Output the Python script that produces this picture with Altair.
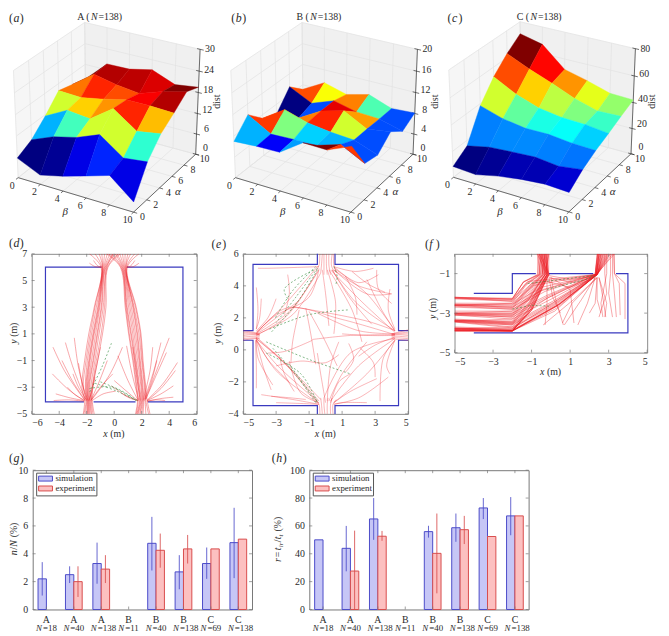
import numpy as np
import pandas as pd
import altair as alt

SERIF = "Liberation Serif"
TXT = "#2a2a2a"

# ---------- surfaces: dist by alpha row (0,2,..,10) and beta column (0,2,..,10)
DIST_A = [[5.7,2.7,4.3,6.3,8.4,2.9],
          [7.8,10.5,12.1,14.7,10.0,10.8],
          [11.6,15.0,14.3,18.9,14.3,15.4],
          [16.0,15.7,16.9,18.4,18.4,18.1],
          [14.9,19.5,18.1,17.3,19.5,21.1],
          [13.7,19.7,19.8,21.2,18.6,19.5]]
LEVEL_A = [[0,.02,.1,.16,.1],
           [.3,.44,.58,.58,.42],
           [.58,.67,.73,.84,.69],
           [.76,.84,.8,.88,.95],
           [1,.95,.94,.91,1]]
DIST_B = [[7.0,7.3,7.4,10.4,10.3,12.2],
          [10.0,7.5,7.7,7.8,9.2,6.9],
          [7.3,10.1,8.8,8.2,7.9,6.3],
          [6.1,6.5,9.0,10.2,7.9,8.6],
          [9.5,7.4,9.0,8.0,7.8,6.6],
          [7.1,9.5,8.3,9.4,7.8,8.1]]
LEVEL_B = [[.3,.12,.28,1,.82],
           [.82,.5,.33,.3,.2],
           [.8,.75,.84,.58,.2],
           [0,.2,.9,.72,.2],
           [.8,.62,.75,.45,.2]]
DIST_C = [[8.5,7.3,11.3,14.0,15.6,14.7],
          [15.8,19.7,21.0,22.1,20.2,22.7],
          [38.5,33.2,30.6,30.8,28.9,28.3],
          [52.8,43.9,38.0,35.4,34.8,32.7],
          [63.0,55.5,49.1,41.9,36.9,37.5],
          [71.0,67.0,52.1,47.8,42.6,42.0]]
LEVEL_C = [[0,.02,.05,.05,.08],
           [.25,.26,.26,.25,.24],
           [.58,.47,.4,.38,.33],
           [.8,.67,.56,.5,.43],
           [1,.87,.73,.6,.52]]
Z_TICKS_A = [0,6,12,18,24,30]
Z_TICKS_B = [0,4,8,12,16,20]
Z_TICKS_C = [0,20,40,60,80]
GRID_TICKS = [0,2,4,6,8,10]

# ---------- bars
CATS = ["A|18","A|40","A|138","B|11","B|40","B|138","C|69","C|138"]
SERIES = ["simulation","experiment"]
G_SIM = [2.2,2.5,3.3,None,4.75,2.7,3.3,4.8]
G_SIM_LO = [1.0,1.9,1.85,None,2.8,1.45,2.2,2.25]
G_SIM_HI = [3.4,3.1,4.8,None,6.65,3.9,4.45,7.3]
G_EXP = [None,2.0,2.9,None,4.25,4.35,4.35,5.05]
G_EXP_LO = [None,0.9,1.9,None,3.0,3.3,None,None]
G_EXP_HI = [None,3.1,3.9,None,5.45,5.35,None,None]
H_SIM = [50,43.9,65,None,55.9,58.7,72.9,67.2]
H_SIM_LO = [None,27.4,50,None,51.6,48.6,64.9,53.3]
H_SIM_HI = [None,60,80,None,60.1,68.9,80,80.7]
H_EXP = [None,27.6,52.6,None,40.3,57.3,52.4,67.2]
H_EXP_LO = [None,0,49.3,None,11.6,47,None,None]
H_EXP_HI = [None,56.6,56.4,None,68.9,67.2,None,None]

# ---------- trajectories, panel d: x read at each of these y levels
D_LEVELS = [7,6,3,1,-1,-3,-4,-5]
D_LEFT = [[-1.8,-.95,-1.45,-1.85,-2.15,-2.35,-2.15,-2.25],[-1.4,-.9,-1.4,-1.75,-2.05,-2.25,-2.05,-2.2],
          [-1.1,-.85,-1.3,-1.65,-1.95,-2.1,-2.0,-2.1],[-.9,-.85,-1.2,-1.55,-1.85,-2.05,-1.95,-2.0],
          [-.7,-.8,-1.15,-1.5,-1.8,-2.0,-1.9,-1.95],[-.5,-.75,-1.1,-1.45,-1.75,-1.95,-1.9,-1.9],
          [-.3,-.7,-1.05,-1.35,-1.65,-1.9,-1.85,-1.85],[-.1,-.65,-.95,-1.25,-1.55,-1.85,-1.8,-1.8],
          [.1,-.6,-.9,-1.2,-1.5,-1.8,-1.75,-1.7],[-.05,-.55,-.8,-1.1,-1.4,-1.7,-1.7,-1.65],
          [.3,-.5,-.7,-.95,-1.3,-1.6,-1.65,-1.55],[.45,-.45,-.6,-.85,-1.2,-1.55,-1.6,-1.45]]
D_RIGHT = [[1.8,.95,1.6,1.95,2.1,2.3,2.4,2.6],[1.5,.9,1.55,1.9,2.05,2.25,2.3,2.5],
           [1.2,.85,1.45,1.8,2.0,2.2,2.25,2.3],[1.0,.85,1.4,1.7,1.9,2.1,2.15,2.1],
           [.8,.8,1.35,1.65,1.85,2.05,2.1,2.0],[.6,.75,1.25,1.55,1.8,2.0,2.05,1.9],
           [.4,.7,1.15,1.45,1.7,1.95,2.0,1.85],[.2,.65,1.05,1.35,1.6,1.85,1.95,1.75],
           [.05,.6,.95,1.25,1.55,1.8,1.9,1.7],[-.2,.55,.9,1.2,1.5,1.75,1.85,1.65],
           [-.4,.5,.85,1.1,1.4,1.65,1.75,1.6],[-.55,.45,.8,1.05,1.35,1.6,1.7,1.55]]
D_FANS = [[-4.45,0,-3.6,-1.8,-2.2,-3.9],[-3.55,.35,-3.0,-1.5,-2.1,-3.9],[-2.9,.7,-2.6,-1.5,-2.0,-4],
          [-4.5,-2,-3.3,-3.2,-2.2,-4],[-4.25,-3.5,-3.2,-3.8,-2.2,-4],[-3.4,-3,-2.8,-3.6,-2.1,-4],
          [-4.4,-4,-3.3,-3.95,-2.2,-4.05],[-3.0,-2.0,-2.6,-3,-2,-4],[-2.6,-1.2,-2.3,-2.8,-1.9,-4],
          [-1,0,-1.4,-2,-1.8,-4],[-1.4,-2.25,-1.6,-3.2,-1.85,-4],[-.1,-2,-1,-3,-1.7,-4],
          [.6,0,-.3,-2,-1.6,-3.9],[.1,-3.3,-.8,-3.5,-1.6,-4],[-.5,-1,-1.1,-2.6,-1.7,-4],
          [-3.8,-1,-3,-2.6,-2.1,-4],[4,.7,3.1,-1.7,2.3,-3.9],[3.4,.35,2.9,-1.7,2.2,-3.9],
          [2.8,0,2.6,-1.8,2.1,-4],[4.6,-1.15,3.5,-2.8,2.4,-3.95],[4.45,-1.75,3.4,-3.1,2.4,-4],
          [4.3,-2.9,3.4,-3.5,2.4,-4],[4.3,-3.75,3.4,-3.85,2.4,-4.05],[3.7,-4,3,-3.95,2.4,-4.05],
          [3.1,-1,2.7,-2.6,2.2,-4],[3.8,-.4,3.1,-2,2.3,-3.9],[.27,-.65,1,-2.5,1.75,-4],
          [.9,.1,1.3,-2,1.8,-4],[1.35,0,1.6,-2,1.9,-4],[0,-2.5,.9,-3.3,1.7,-4],
          [-.2,-2.9,.8,-3.6,1.7,-4],[.6,-3.5,1.1,-3.8,1.7,-4],
          [-1.8,6.3,-1.4,6.05,-.95,6],[-1.5,6.5,-1.2,6.1,-.9,6],[1.8,6.3,1.4,6.05,.95,6],[1.5,6.5,1.2,6.1,.9,6]]
D_GREEN = [[-.2,.3,-.9,-1.5,-1.8,-3.4],[-1.8,-3.1,-.2,-3,1.6,-4],[-1,-2.6,.4,-3.2,1.7,-4],[-1.4,-2.7,.2,-3.3,1.6,-4]]
D_WALLS = [[-.92,6,-5,6,-5,-4.1,-2.2,-4.1],[.92,6,5,6,5,-4.1,2.45,-4.1],[-1.5,-4.1,1.55,-4.1]]

# ---------- trajectories, panel e
E_LINES = [[-5,1.2,-4.4,1.1,-4,1.0],[-5,1.1,-4.4,1.05,-4,.95],[-5,1.0,-4.4,1.0,-4,.95],[-5,.9,-4.4,.95,-4,.9],
           [-5,.8,-4.4,.85,-4,.85],[-5,.7,-4.4,.75,-4,.75],[-5,.6,-4.4,.7,-4,.7],
           [5,1.25,4.4,1.1,4,1.0],[5,1.1,4.4,1.05,4,1.0],[5,1.0,4.4,1.0,4,.95],[5,.9,4.4,.95,4,.9],
           [5,.8,4.4,.85,4,.85],[5,.7,4.4,.75,4,.75],[5,.6,4.4,.65,4,.7],
           [-.35,6,-.4,5.3,-.6,4.9],[-.2,6,-.25,5.3,-.3,4.8],[-.1,6,-.1,5.3,-.1,4.7],[.05,6,.05,5.3,.1,4.7],
           [.2,6,.2,5.3,.3,4.7],[.4,6,.35,5.3,.5,4.9],[.5,6,.5,5.3,.7,4.8],
           [-.35,-4,-.4,-3.4,-.6,-3.1],[-.2,-4,-.25,-3.4,-.3,-3],[-.05,-4,-.1,-3.4,-.1,-3],[.1,-4,.1,-3.4,.15,-3],
           [.3,-4,.3,-3.4,.4,-3],[.45,-4,.45,-3.4,.65,-3.1],
           [-4.2,1.1,-2.6,2.7,-.5,5.2],[-4.2,1.0,-2.2,2.4,-.4,5],[-4.2,.95,-2,2.2,-.3,4.8],[-4.2,1.05,-3,2.0,-1.7,3.0],
           [-4.2,1,-2.4,2.6,1,1.9,4.2,.95],[-4.2,.9,-2.6,1.9,-1.8,2.8,-.5,4.9],[-4.2,1.1,-3.1,2.1,-1,3.3,-.4,5.1],
           [-4.2,.7,-2.5,-.8,-.5,-3.3],[-4.2,.8,-2.8,-.5,-.4,-3.2],[-4.2,.6,-2.9,-1,-.5,-3.2],[-4.2,.7,-2.3,-1,-.3,-3.1],
           [-4.2,.6,-3,-1.3,-.5,-3.3],[-4.2,.8,-4.1,-.5,-3.2,-2.2],[-4.2,.6,-3.8,-1,-3.3,-2.5],[-4.2,.7,-3.5,-.6,-2.2,-2],
           [-4.2,1.3,-4.1,2.5,-4.2,3.9],[-4.2,1.3,-4,2,-3.9,3.2],[-4.2,1.2,-3.5,2,-3,3.2],[-4.25,.6,-4.2,-1,-4.2,-2.4],
           [-.4,-3.4,-2,-3.1,-3.9,-2.8],[-.4,-3.3,-1.5,-2.7,-2.2,-.7],[0,-3.3,-.3,-1.5,-.5,-.2],[.1,-3.2,.3,-1,.8,.5],
           [.3,-3.3,.8,-2,1.5,-1.5],[.5,-3.3,1.5,-2.6,3.1,-1.8],[.5,-3.4,2,-3,3.8,-1.7],[.5,-3.4,1,-3.3,2.5,-3.3],
           [-.4,-3.4,-1.5,-3.35,-3,-3.3],[.2,-3.2,1,-1.5,2.5,.5],
           [-.8,.65,1.5,.9,4.2,.95],[.4,5,1.8,3,4.2,1.2],[.3,5,2.2,3,4.2,1.1],[.5,5.1,2.5,3.5,4.2,1.2],
           [.5,5.2,2,4.2,3.2,4.7],[.5,5.2,1.8,4.9,2.9,5.1],[.5,5,2,4,4,3.5],[.5,5,2.5,3.5,4.0,3.5],[.4,5,1.5,3.2,2.8,1.6],
           [4.2,.7,2,-1,.3,-3.2],[4.2,.6,2.5,-1.5,.5,-3.3],[4.2,.7,1.5,-.2,-.1,-3],[4.2,.6,3.5,-.5,3.3,-3.2],
           [4.2,.6,3.7,-1,3.9,-1.5],[4.2,.8,3,.3,2,-.4],[4.2,1.3,3.8,2.5,3.9,3.8],[4.2,1.2,3.4,2.5,2.5,4.4],
           [4.2,1.2,2.5,1.8,-2,2.7],[4.2,1.0,2,1.2,-.5,2.3],[4.2,.9,2.5,.9,1,1.0],[-.4,5.2,-3.5,5.1,-4.1,5.1],
           [-2.3,4.7,-2.2,3.5,-2.5,2.2],[-.2,5,0,3.5,.2,1.5],[.1,5,.6,3,.5,1],[.2,5,1.6,2.5,2.2,.5],
           [-1.6,2.5,-2,.5,-2.1,-.8],[-1.2,2.6,-.9,1,-.6,-.9],[-.8,.6,-2.5,-.1,-3.5,-.2],[-3,-1,-1.5,-.7,0,-.8,.8,-.3],
           [3.1,5,3.2,3.8,4,2.9],[1.6,4.9,2.6,4.1,3.6,3.6],[1.2,4.6,1.8,3.3,1.9,2.2],[-1,2.4,-.2,.9,.7,-1],
           [-2.8,-.4,-2.5,-1.5,-1.9,-2.6],[2.1,.1,2.9,-.8,3,-1.7],[1.4,.4,1.7,-.6,1.2,-1.4],[-3.3,-2.9,-2.1,-3,-1.2,-3.1]]
E_GREEN = [[-.6,5.2,-2,3.7,-3.1,1.9],[-.5,5.1,-1.8,3.3,-3,1.7],[-.5,5,-1.7,3,-3.3,1.1],[-3.4,1.3,-1,2.2,1.4,2.5],
           [.5,5.2,.7,4.6,.6,4],[-3.6,.5,-1,-.6,1.5,-1.5],[-3.6,-.2,-1.5,-1.5,-.5,-3.3],[-3.2,.1,-1.7,-1.7,-.6,-3.3],
           [-2.2,-.9,-1.2,-2.3,-.5,-3.2],[-2.3,3.2,-2.5,3.8,-.7,5]]
E_WALLS = [[-.5,6,-.5,5.34,-4.4,5.34,-4.4,1.2,-5,1.2],[.57,6,.57,5.34,4.42,5.34,4.42,1.2,5,1.2],
           [-5,.6,-4.4,.6,-4.4,-3.48,-.5,-3.48,-.5,-4],[5,.6,4.42,.6,4.42,-3.48,.57,-3.48,.57,-4]]

# ---------- trajectories, panel f: y at x=-5, y at x=-2, bend x, bend y, door x, x at the top
F_LEFT_DOOR = [[-2.2,-2.25,-1.4,-1.4,-.7,-.6],[-2.25,-2.35,-1.3,-1.5,-.6,-.5],[-2.55,-2.6,-1.2,-1.7,-.5,-.4],
               [-2.6,-2.7,-1.2,-1.8,-.45,-.35],[-2.65,-2.8,-1.2,-1.9,-.4,-.3],[-3,-3,-1.15,-2.05,-.35,-.25],
               [-3.05,-3.1,-1.1,-2.15,-.3,-.2],[-3.1,-3.2,-1.1,-2.25,-.3,-.1],[-3.35,-3.4,-1.1,-2.4,-.25,-.15],
               [-3.4,-3.5,-1.1,-2.5,-.2,-.55],[-3.45,-3.6,-1.1,-2.6,-.2,-.45],[-3.75,-3.85,-1.1,-2.75,-.15,-.35],
               [-3.8,-3.9,-1.05,-2.8,-.1,-.25],[-3.85,-3.9,-1.0,-2.85,-.1,-.4],[-3.9,-3.9,-1.0,-2.85,-.15,-.3],
               [-2.2,-2.3,-1.45,-1.45,-.65,-.7],[-2.6,-2.5,-1.3,-1.6,-.55,-.65],[-3.0,-2.9,-1.2,-2.0,-.4,-.5],
               [-3.4,-3.3,-1.15,-2.35,-.3,-.6],[-3.8,-3.7,-1.1,-2.7,-.2,-.2],
               [-2.2,-2.28,-1.42,-1.42,-.6,-.55],[-2.22,-2.4,-1.3,-1.55,-.55,-.45],[-2.58,-2.65,-1.2,-1.75,-.45,-.3],
               [-2.62,-2.75,-1.2,-1.85,-.4,-.6],[-3.02,-3.05,-1.12,-2.1,-.3,-.35],[-3.08,-3.15,-1.1,-2.2,-.3,-.45],
               [-3.38,-3.45,-1.1,-2.45,-.2,-.25],[-3.42,-3.55,-1.1,-2.55,-.2,-.15],[-3.78,-3.8,-1.08,-2.72,-.15,-.5],
               [-3.82,-3.88,-1.02,-2.82,-.12,-.1],[-3.88,-3.9,-.98,-2.82,-.1,-.6],[-3.9,-3.9,-1.05,-2.8,-.2,-.7]]
F_RIGHT_DOOR = [[-2.25,-2.3,-1.2,-1.4,2.3,2.45],[-2.6,-2.55,-.5,-1.7,2.35,2.5],[-2.7,-2.8,-.3,-1.9,2.35,2.5],
                [-3,-3,-.2,-2.1,2.35,2.55],[-3.05,-3.2,-.1,-2.2,2.35,2.6],[-3.1,-3.3,0,-2.3,2.4,2.7],
                [-3.35,-3.5,.1,-2.4,2.4,2.75],[-3.4,-3.6,.2,-2.5,2.4,2.8],[-3.45,-3.75,.2,-2.6,2.4,2.85],
                [-3.75,-3.85,.3,-2.6,2.4,2.95],[-3.8,-3.9,.3,-2.65,2.4,3.0],[-3.85,-3.9,.4,-2.6,2.4,3.1],
                [-3.9,-3.9,.3,-2.75,2.4,3.2],[-3.9,-3.9,.2,-2.9,2.35,3.3],[-2.5,-2.5,-.9,-1.6,2.3,2.4],
                [-2.9,-2.9,-.6,-1.9,2.3,2.42],[-3.3,-3.45,-.2,-2.25,2.35,2.5],[-3.7,-3.8,.1,-2.5,2.35,2.6],
                [-2.28,-2.4,-1,-1.5,2.3,2.43],[-2.58,-2.7,-.4,-1.8,2.32,2.46],[-3.02,-3.1,-.15,-2.15,2.35,2.52],
                [-3.36,-3.55,.15,-2.45,2.38,2.62],[-3.42,-3.7,.2,-2.55,2.38,2.72],[-3.78,-3.88,.35,-2.6,2.4,2.9],
                [-3.84,-3.9,.45,-2.55,2.4,3.05],[-3.88,-3.9,.5,-2.5,2.42,2.65]]
F_LOOSE = [[2.3,-1.2,1.9,-2.5,1.4,-3.6],[2.3,-1.2,1.6,-2.3,.7,-3.6],[2.4,-1.2,1.1,-2.5,.6,-3.5],[2.4,-1.2,2.3,-2.5,2.0,-3],
           [2.5,-1.2,2.7,-2.2,2.85,-3.2],[2.5,-1.2,2.9,-2.5,2.8,-3.2],[2.4,-1.2,2.4,-2.3,2.6,-3],[2.4,-1.2,1.2,-2.3,-.4,-3.6],
           [0,-1.2,.3,-2.5,.65,-3.6],[-.1,-1.2,.1,-2.2,.5,-3],[-.2,-1.3,-.2,-2.5,-.3,-3.6],[0,-1.2,1,-1.8,1.2,-3.5],
           [3.3,0,3.3,-1,3.85,-1.5,3.85,-3.3],[3.25,0,3.3,-1,3.55,-1.5,3.6,-3.1],[3.2,0,3.2,-1,3.3,-2,3.4,-3.2],
           [3.1,0,3.1,-1,3.0,-2,3.2,-3.2],[2.9,0,2.9,-1,2.6,-2.5,2.7,-3.2],[2.8,0,2.8,-1,2.9,-2,2.5,-3.2],
           [-.1,-1.1,1,-1.3,2.2,-1.15],[-.1,-1.2,1.2,-1.45,2.2,-1.2],[-.2,-1.4,1,-1.7,2.3,-1.2]]
F_GREEN = [[-.2,-1.8,1,-1.5,2.3,-1.15],[-1.2,-1.5,.5,-1.3,2.2,-1.1],[-2,-2.8,-1,-2.6,-.1,-2.65]]
F_WALLS = [[-4,-2,-2,-2,-2,-1,-.78,-1],[-.1,-1,2.2,-1],[3.38,-1,4,-1,4,-4,-4,-4]]

ONE = alt.Data(values=[{"k": 0}])


def jet(t):
    def ch(v):
        return int(round(255 * min(1, max(0, v))))
    return "#%02x%02x%02x" % (ch(1.5 - abs(4 * t - 3)), ch(1.5 - abs(4 * t - 2)), ch(1.5 - abs(4 * t - 1)))


def view_coords(b, a, z, zmax):
    """Matplotlib's default 3-D camera (elevation 30, azimuth -60, distance 10)."""
    p = np.array([b / 10, a / 10, z / zmax]) - .5
    el, az = np.radians(30), np.radians(-60)
    w = np.array([np.cos(el) * np.cos(az), np.cos(el) * np.sin(az), np.sin(el)])
    u = np.cross([0, 0, 1], w)
    u = u / np.linalg.norm(u)
    v = np.cross(w, u)
    d = p - 10 * w
    zc = d @ w
    return (d @ u) / -zc, (d @ v) / -zc, -zc


def segs(rows):
    out = []
    for i, r in enumerate(rows):
        for k in range(0, len(r), 2):
            out.append({"id": i, "ord": k, "x": float(r[k]), "y": float(r[k + 1])})
    return pd.DataFrame(out)


def label(org, x, y, s, italic=False, size=10, angle=0, align="left"):
    kw = {"angle": angle} if angle else {}
    return alt.Chart(ONE).mark_text(
        text=s, font=SERIF, fontSize=size, fontStyle="italic" if italic else "normal",
        align=align, baseline="alphabetic", color=TXT, **kw
    ).encode(x=alt.value(x - org[0]), y=alt.value(y - org[1]))


def panel3d(org, dist, levels, zticks, corners, title_x, letter, letter_x, name):
    W, H = 220, 187
    zmax = zticks[-1]
    P = lambda b, a, z: view_coords(b, a, z, zmax)
    cs = [(b, a, z) for b, a, z in [(0, 0, 0), (10, 0, 0), (10, 10, 0), (0, 0, zmax), (0, 10, zmax), (10, 10, zmax)]]
    us = [P(*c)[0] for c in cs]
    vs = [P(*c)[1] for c in cs]
    sx, tx = np.polyfit(us, [c[0] - org[0] for c in corners], 1)
    sy, ty = np.polyfit(vs, [c[1] - org[1] for c in corners], 1)
    xs = alt.Scale(domain=[(0 - tx) / sx, (W - tx) / sx], nice=False, zero=False)
    ys = alt.Scale(domain=[(H - ty) / sy, (0 - ty) / sy], nice=False, zero=False)
    X = alt.X("u:Q", scale=xs, axis=None)
    Y = alt.Y("v:Q", scale=ys, axis=None)

    def quads(rows):
        recs = []
        for i, (pts, col) in enumerate(rows):
            for k, (b, a, z) in enumerate(pts):
                u, v, _ = P(b, a, z)
                recs.append({"id": i, "ord": k, "u": u, "v": v, "c": col})
        return alt.Chart(pd.DataFrame(recs)).mark_line(interpolate="linear-closed", strokeWidth=.4).encode(
            x=X, y=Y, detail="id:Q", order="ord:Q",
            fill=alt.Fill("c:N", scale=None), stroke=alt.Stroke("c:N", scale=None))

    def lines(rows, color, width):
        recs = []
        for i, (p0, p1) in enumerate(rows):
            for k, p in enumerate((p0, p1)):
                u, v, _ = P(*p)
                recs.append({"id": i, "ord": k, "u": u, "v": v})
        return alt.Chart(pd.DataFrame(recs)).mark_line(color=color, strokeWidth=width).encode(
            x=X, y=Y, detail="id:Q", order="ord:Q")

    def ticktext(points, dx, dy):
        recs = [{"u": P(*p)[0], "v": P(*p)[1], "t": str(t)} for p, t in points]
        return alt.Chart(pd.DataFrame(recs)).mark_text(
            font=SERIF, fontSize=10, color=TXT, dx=dx, dy=dy).encode(x=X, y=Y, text="t:N")

    panes = quads([
        ([(0, 0, 0), (0, 10, 0), (0, 10, zmax), (0, 0, zmax)], "#f6f6f6"),
        ([(0, 10, 0), (10, 10, 0), (10, 10, zmax), (0, 10, zmax)], "#f0f0f0"),
        ([(0, 0, 0), (10, 0, 0), (10, 10, 0), (0, 10, 0)], "#f4f4f4"),
    ])
    grid = []
    for t in GRID_TICKS:
        grid += [((t, 0, 0), (t, 10, 0)), ((t, 10, 0), (t, 10, zmax)), ((0, t, 0), (10, t, 0)), ((0, t, 0), (0, t, zmax))]
    for t in zticks:
        grid += [((0, 0, t), (0, 10, t)), ((0, 10, t), (10, 10, t))]
    axes = [((0, 0, 0), (10, 0, 0)), ((10, 0, 0), (10, 10, 0)), ((10, 10, 0), (10, 10, zmax))]
    for t in GRID_TICKS:
        axes += [((t, 0, 0), (t, -.3, 0)), ((10, t, 0), (10.3, t, 0))]
    for t in zticks:
        axes += [((9.75, 10, t), (10.3, 10, t))]

    nx, ny = len(dist[0]), len(dist)
    cells = []
    for j in range(ny - 1):
        for i in range(nx - 1):
            pts = [(2 * i, 2 * j, dist[j][i]), (2 * i + 2, 2 * j, dist[j][i + 1]),
                   (2 * i + 2, 2 * j + 2, dist[j + 1][i + 1]), (2 * i, 2 * j + 2, dist[j + 1][i])]
            depth = np.mean([P(*p)[2] for p in pts])
            cells.append((depth, pts, jet(levels[j][i])))
    cells.sort(key=lambda c: -c[0])
    surface = quads([(c[1], c[2]) for c in cells])

    ox = org[0]
    zlabels = [ticktext([((10, 10, t), t)], 10, -6.5 * (1 - t / zmax)) for t in zticks]
    layers = [panes, lines(grid, "#e2e2e2", .7), lines(axes, "#333333", .7), surface,
              ticktext([((t, 0, 0), t) for t in GRID_TICKS], -6, 8),
              ticktext([((10, t, 0), t) for t in GRID_TICKS], 9, 5),
              *zlabels,
              label(org, ox + 57, 213, "\u03b2", italic=True, size=11, align="center"),
              label(org, ox + 171, 192, "\u03b1", italic=True, size=11, align="center"),
              label(org, ox + 214, 98, "dist", size=10, angle=270, align="center"),
              label(org, title_x, 15, name + " ("),
              label(org, title_x + 14, 15, "N", italic=True),
              label(org, title_x + 21.5, 15, "=138)"),
              label(org, letter_x, 17, "(", size=12),
              label(org, letter_x + 4.5, 17, letter, italic=True, size=12),
              label(org, letter_x + 11, 17, ")", size=12)]
    return alt.layer(*layers).properties(width=W, height=H, view=alt.ViewConfig(stroke=None))


def panel_letter(org, x, y, letter):
    return [label(org, x, y, "(", size=12), label(org, x + 4.5, y, letter, italic=True, size=12),
            label(org, x + 11, y, ")", size=12)]


def frame_ticks(X, xname, xvals, Y, yname, yvals, w, h):
    xd = pd.DataFrame({xname: xvals})
    yd = pd.DataFrame({yname: yvals})
    tk = dict(color="#777777", strokeWidth=.7)
    return [alt.Chart(xd).mark_rule(**tk).encode(x=X, y=alt.value(0), y2=alt.value(3)),
            alt.Chart(xd).mark_rule(**tk).encode(x=X, y=alt.value(h - 3), y2=alt.value(h)),
            alt.Chart(yd).mark_rule(**tk).encode(y=Y, x=alt.value(0), x2=alt.value(3)),
            alt.Chart(yd).mark_rule(**tk).encode(y=Y, x=alt.value(w - 3), x2=alt.value(w))]


def traj_panel(org, w, h, xdom, ydom, xvals, yvals, red, green, walls, ylab_y, ylab_x, letter_pos, letter, opacity, interp):
    X = alt.X("x:Q", scale=alt.Scale(domain=xdom, nice=False, zero=False),
              axis=alt.Axis(values=xvals, title=None, grid=False, domain=False, ticks=False, labelPadding=4,
                            labelOverlap=False))
    Y = alt.Y("y:Q", scale=alt.Scale(domain=ydom, nice=False, zero=False),
              axis=alt.Axis(values=yvals, title=None, grid=False, domain=False, ticks=False, labelPadding=5,
                            labelOverlap=False))
    r = alt.Chart(segs(red)).mark_line(color="#ee1c25", strokeWidth=.65, opacity=opacity, clip=True,
                                       interpolate=interp).encode(x=X, y=Y, detail="id:Q", order="ord:Q")
    g = alt.Chart(segs(green)).mark_line(color="#2f8a3a", strokeWidth=.7, strokeDash=[2, 2], opacity=.85, clip=True,
                                         interpolate=interp).encode(x=X, y=Y, detail="id:Q", order="ord:Q")
    b = alt.Chart(segs(walls)).mark_line(color="#3a3abf", strokeWidth=1.2).encode(x=X, y=Y, detail="id:Q", order="ord:Q")
    cx = org[0] + w / 2
    by = org[1] + h + 23
    labs = [label(org, cx - 11, by, "x", italic=True), label(org, cx - 4, by, "(m)"),
            label(org, ylab_x, ylab_y + 10, "y", italic=True, angle=270),
            label(org, ylab_x, ylab_y + 3, "(m)", angle=270)]
    labs += panel_letter(org, letter_pos[0], letter_pos[1], letter)
    ticks = frame_ticks(X, "x", xvals, Y, "y", yvals, w, h)
    return alt.layer(b, r, g, *ticks, *labs).properties(
        width=w, height=h, view=alt.ViewConfig(stroke="#8a8a8a", strokeWidth=1))


def legend_marks(org):
    ox = org[0]
    def rect(x0, x1, y0, y1, fill, stroke):
        return alt.Chart(ONE).mark_rect(fill=fill, stroke=stroke, strokeWidth=1).encode(
            x=alt.value(x0), x2=alt.value(x1), y=alt.value(y0), y2=alt.value(y1))
    return [rect(4, 65, 3, 26, "white", "#555555"),
            rect(6, 20, 6, 11, "#c6c6f6", "#4a4ac8"),
            rect(6, 20, 16, 21, "#fcc0c0", "#d84c4c"),
            label(org, ox + 23, org[1] + 11, SERIES[0], size=9),
            label(org, ox + 23, org[1] + 21.5, SERIES[1], size=9)]


def bar_panel(org, sim, sim_lo, sim_hi, exp, exp_lo, exp_hi, ydom, yvals, ylabel_parts, ylab_x, letter_pos, letter):
    rows = []
    for c, s, sl, sh, e, el, eh in zip(CATS, sim, sim_lo, sim_hi, exp, exp_lo, exp_hi):
        if s is not None:
            rows.append({"cat": c, "series": SERIES[0], "v": s, "lo": sl, "hi": sh})
        if e is not None:
            rows.append({"cat": c, "series": SERIES[1], "v": e, "lo": el, "hi": eh})
    df = pd.DataFrame(rows)
    yscale = alt.Scale(domain=ydom, nice=False)
    yaxis = alt.Axis(values=yvals, title=None, grid=False, domain=False, ticks=False, labelPadding=5,
                     labelOverlap=False)
    X = alt.X("cat:N", sort=CATS, scale=alt.Scale(domain=CATS, paddingInner=.39, paddingOuter=.195),
              axis=alt.Axis(title=None, labelAngle=0, grid=False, domain=False, ticks=False, labelPadding=5,
                            labelOverlap=False, labelExpr="split(datum.label,'|')[0]"))
    XO = alt.XOffset("series:N", scale=alt.Scale(domain=SERIES, paddingInner=0, paddingOuter=0))
    Y = alt.Y("v:Q", scale=yscale, axis=yaxis)
    fill = alt.Scale(domain=SERIES, range=["#c6c6f6", "#fcc0c0"])
    stroke = alt.Scale(domain=SERIES, range=["#4a4ac8", "#d84c4c"])
    bars = alt.Chart(df).mark_bar(strokeWidth=1).encode(
        x=X, xOffset=XO, y=Y,
        fill=alt.Fill("series:N", scale=fill, legend=None),
        stroke=alt.Stroke("series:N", scale=stroke, legend=None))
    errs = alt.Chart(df.dropna(subset=["lo"])).mark_rule(strokeWidth=1, opacity=.85).encode(
        x=X, xOffset=XO, y=alt.Y("lo:Q", scale=yscale, axis=yaxis), y2="hi:Q",
        stroke=alt.Stroke("series:N", scale=stroke, legend=None))
    nd = pd.DataFrame({"cat": CATS, "n": ["=" + c.split("|")[1] for c in CATS], "N": ["N"] * len(CATS)})
    n1 = alt.Chart(nd).mark_text(font=SERIF, fontSize=9, fontStyle="italic", color=TXT, align="right", dx=-4.5,
                                 baseline="alphabetic").encode(x=X, y=alt.value(163), text="N:N")
    n2 = alt.Chart(nd).mark_text(font=SERIF, fontSize=9, color=TXT, align="left", dx=-3.5,
                                 baseline="alphabetic").encode(x=X, y=alt.value(163), text="n:N")
    labs = [label(org, ylab_x + sx, yy, s, italic=it, size=sz, angle=270) for s, it, yy, sz, sx in ylabel_parts]
    labs += panel_letter(org, letter_pos[0], letter_pos[1], letter)
    ticks = frame_ticks(X, "cat", CATS, Y, "v", yvals, 222, 141)
    return alt.layer(bars, errs, *ticks, n1, n2, *legend_marks(org), *labs).properties(
        width=222, height=141, view=alt.ViewConfig(stroke="#777777", strokeWidth=1))


def spacer(w, h):
    return alt.Chart(ONE).mark_point(opacity=0, size=0).encode(
        x=alt.value(w / 2), y=alt.value(h / 2)).properties(width=w, height=h, view=alt.ViewConfig(stroke=None))


pa = panel3d((8, 8), DIST_A, LEVEL_A, Z_TICKS_A,
             [(17, 174), (133, 210), (197, 152), (13, 65), (85, 17), (202, 47)], 77, "a", 8, "A")
pb = panel3d((228, 8), DIST_B, LEVEL_B, Z_TICKS_B,
             [(237, 174), (353, 210), (417, 152), (233, 65), (305, 17), (422, 47)], 299, "b", 233, "B")
pc = panel3d((448, 8), DIST_C, LEVEL_C, Z_TICKS_C,
             [(458, 173), (573, 210), (638, 152), (454, 65), (525, 17), (643, 45)], 522, "c", 452, "C")

d_rows = [list(np.ravel(list(zip(r, D_LEVELS)))) for r in D_LEFT + D_RIGHT] + D_FANS
pd_ = traj_panel((31, 252), 167, 162, [-6, 6], [-5, 7], [-6, -4, -2, 0, 2, 4, 6], [-5, -3, -1, 1, 3, 5, 7],
                 d_rows, D_GREEN, D_WALLS, 333, 16, (8, 245), "d", .6, "catmull-rom")
pe = traj_panel((245, 252), 167, 162, [-5, 5], [-4, 6], [-5, -3, -1, 1, 3, 5], [-4, -2, 0, 2, 4, 6],
                E_LINES, E_GREEN, E_WALLS, 333, 223, (213, 246), "e", .5, "catmull-rom")
f_rows = [[-5, r[0], -2, r[1], r[2], r[3], r[4], -1.05, r[5], 0] for r in F_LEFT_DOOR + F_RIGHT_DOOR] + F_LOOSE
pf = traj_panel((460, 252), 195, 100, [-5, 5], [-5, 0], [-5, -3, -1, 1, 3, 5], [-5, -3, -1],
                f_rows, F_GREEN, F_WALLS, 308, 441, (430, 246), "f", .6, "linear")

pg = bar_panel((32, 471), G_SIM, G_SIM_LO, G_SIM_HI, G_EXP, G_EXP_LO, G_EXP_HI, [0, 10], [0, 2, 4, 6, 8, 10],
               [("n", True, 557, 10, 0), ("/", False, 551.5, 10, 0), ("N", True, 548.5, 10, 0), ("(%)", False, 539, 10, 0)],
               16, (8, 463), "g")
ph = bar_panel((312, 471), H_SIM, H_SIM_LO, H_SIM_HI, H_EXP, H_EXP_LO, H_EXP_HI, [0, 100], [0, 20, 40, 60, 80, 100],
               [("r", True, 564, 10, 0), ("=", False, 559, 10, 0), ("t", True, 552, 10, 0), ("ir", True, 549, 7, 2),
                ("/", False, 544, 10, 0), ("t", True, 541, 10, 0), ("t", True, 538, 7, 2), ("(%)", False, 533, 10, 0)],
               283, (274, 463), "h")

row1 = alt.hconcat(pa, pb, pc, spacing=0, bounds="flush")
row2 = alt.hconcat(spacer(23, 162), alt.hconcat(pd_, pe, pf, spacing=47, bounds="flush"), spacing=0, bounds="flush")
row3 = alt.hconcat(spacer(24, 141), alt.hconcat(pg, ph, spacing=58, bounds="flush"), spacing=0, bounds="flush")
lower = alt.vconcat(row2, row3, spacing=219, bounds="flush")
chart = alt.vconcat(row1, lower, spacing=244, bounds="flush").properties(padding=0).configure_axis(
    labelFont=SERIF, labelFontSize=10, labelColor=TXT
)

chart.save("out.html", embed_options={"renderer": "svg", "actions": False})
